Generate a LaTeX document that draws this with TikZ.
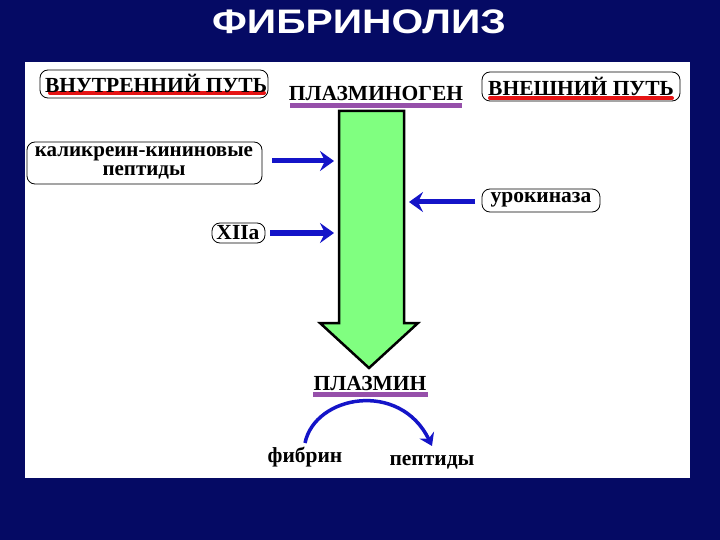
\documentclass[tikz,border=0pt]{standalone}
\usepackage{fontspec}
\setmainfont{Liberation Serif}
\newfontfamily\titlefont{Liberation Sans}
\usetikzlibrary{arrows.meta}
\definecolor{navy}{RGB}{5,10,100}
\definecolor{arrowblue}{RGB}{20,20,200}
\definecolor{lgreen}{RGB}{128,255,128}
\definecolor{ured}{RGB}{230,20,20}
\definecolor{upurple}{RGB}{150,80,170}
\tikzset{
  x=1pt,y=-1pt,
  lbl/.style={font=\bfseries\fontsize{21.5}{18}\selectfont, inner sep=0pt},
  rbox/.style={draw=black, line width=0.8pt, rounded corners=8pt},
  bluearrow/.style={draw=arrowblue, line width=5pt, -{Stealth[length=14pt,width=20pt,inset=5pt]}},
  redline/.style={draw=ured, line width=4pt, line cap=round},
  purpleline/.style={draw=upurple, line width=5pt},
}
\begin{document}
\begin{tikzpicture}
\useasboundingbox (0,0) rectangle (720,540);
\fill[navy] (0,0) rectangle (720,540);
\fill[white] (25,62) rectangle (690,478);
\node[font=\titlefont\bfseries\fontsize{34}{36}\selectfont, text=white, xscale=1.2] (title) at (359,22) {ФИБРИНОЛИЗ};

% boxes
\draw[rbox] (40,70) rectangle (268,98);
\draw[redline] (50,93) -- (264,93);
\node[lbl] (inner) at (156,83) {ВНУТРЕННИЙ ПУТЬ};

\draw[rbox] (482,72) rectangle (680,101);
\draw[redline] (490,98) -- (672,98);
\node[lbl] (outer) at (581,86) {ВНЕШНИЙ ПУТЬ};

\draw[purpleline] (290,106) -- (462,106);
\node[lbl] (plg) at (376,93) {ПЛАЗМИНОГЕН};

\draw[rbox] (27,142) rectangle (262,184);
\node[lbl, font=\bfseries\fontsize{21}{19.5}\selectfont, align=center] (kal) at (144,163) {каликреин-кининовые\\пептиды};

\draw[rbox] (482,189) rectangle (600,212);
\node[lbl] (uro) at (541,200) {урокиназа};

\draw[rbox] (212,223) rectangle (265,243);
\node[lbl] (xii) at (238,233) {XIIa};

% green arrow
\draw[fill=lgreen, line width=2.5pt, line join=miter]
  (339,111) -- (404,111) -- (404,323) -- (418,323) -- (369,368) -- (320,323) -- (339,323) -- cycle;
\coordinate (gl1) at (334,161);
\coordinate (gl2) at (334,233);
\coordinate (gr) at (409,202);

\draw[bluearrow] (272,161) -- (gl1);
\draw[bluearrow] (270,233) -- (gl2);
\draw[bluearrow] (475,202) -- (gr);

% plasmin
\draw[purpleline] (313,394) -- (428,394);
\node[lbl] (pl) at (370,383) {ПЛАЗМИН};

\node[lbl] (fib) at (305,457) {фибрин};
\node[lbl] (pep) at (432,462) {пептиды};

\draw[draw=arrowblue, line width=3.5pt, -{Stealth[length=12pt,width=16pt,inset=4pt]}]
  (305,443) .. controls (315,395) and (400,380) .. (432,446);
\end{tikzpicture}
\end{document}
